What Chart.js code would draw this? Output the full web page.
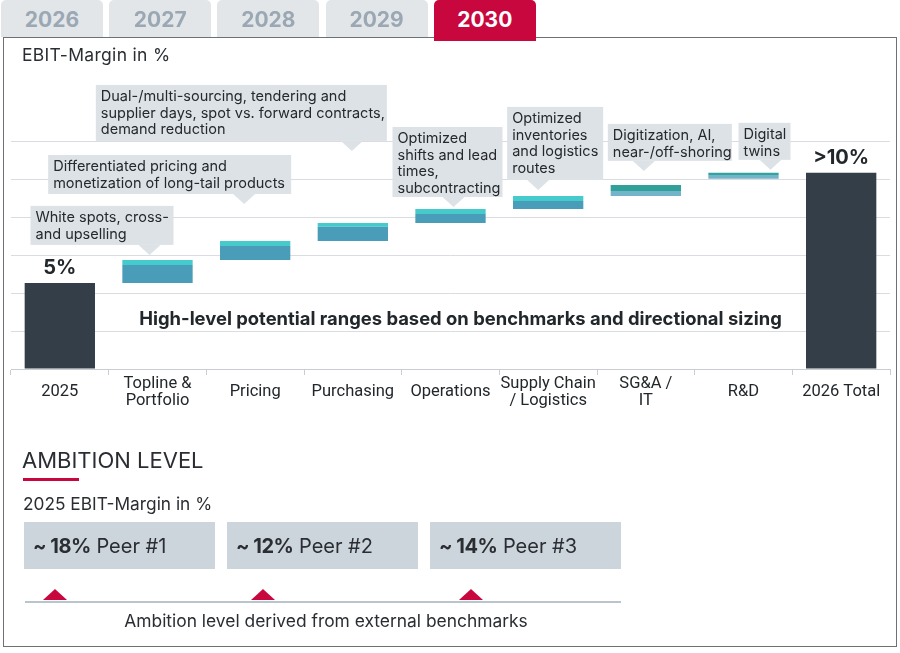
<!DOCTYPE html>
<html>
<head>
<meta charset="utf-8">
<script src="https://cdn.jsdelivr.net/npm/chart.js@4.4.1/dist/chart.umd.min.js"></script>
<style>
  body { margin: 0; width: 900px; height: 653px; position: relative; overflow: hidden; background: #fff;
         font-family: Inter, Roboto, sans-serif; color: #2a2e33; }
  #wrap { position: absolute; left: 0; top: 0; width: 900px; height: 653px; }
  .tab { position: absolute; top: 0; height: 37px; width: 102px; background: #e2e6e9; border-radius: 5px 5px 0 0;
         color: #9ba8b4; font-weight: 700; font-size: 21px; text-align: center; line-height: 39px; z-index: 1; }
  .tab.active { background: #c8073e; color: #fff; height: 41px; z-index: 3; }
  #frame { position: absolute; left: 3px; top: 37px; width: 894px; height: 610px; border: 1.5px solid #6c7176;
           box-sizing: border-box; pointer-events: none; z-index: 2; }
  .txt { position: absolute; white-space: nowrap; z-index: 4; }
  #ylab { left: 22px; top: 44px; font-size: 17.5px; letter-spacing: 0.3px; }
  #amb { left: 22px; top: 447px; font-size: 22px; }
  #ambline { position: absolute; left: 23px; top: 478px; width: 56px; height: 3px; background: #c8073e; }
  #amb2 { left: 23px; top: 493px; font-size: 17.3px; }
  .peer { position: absolute; top: 522px; width: 191px; height: 47px; background: #cdd5dc; font-size: 20px;
          line-height: 48px; padding-left: 9px; box-sizing: border-box; white-space: nowrap; }
  .peer b { font-weight: 700; letter-spacing: -0.5px; }
  .tri { position: absolute; top: 589px; width: 0; height: 0; border-left: 12px solid transparent;
         border-right: 12px solid transparent; border-bottom: 11px solid #c8073e; }
  #base { position: absolute; left: 25px; top: 601px; width: 596px; height: 2px; background: #b9c4cc; }
  #foot { left: 25px; width: 602px; top: 610px; font-size: 17.4px; text-align: center; }
</style>
</head>
<body>
<div id="wrap"><canvas id="chart"></canvas></div>
<div id="tabs"></div>
<div id="frame"></div>
<div class="txt" id="ylab">EBIT-Margin in %</div>
<div class="txt" id="amb">AMBITION LEVEL</div>
<div id="ambline"></div>
<div class="txt" id="amb2">2025 EBIT-Margin in %</div>
<div id="peers"></div>
<div id="base"></div>
<div class="txt" id="foot">Ambition level derived from external benchmarks</div>

<script>
// --- data ---
const tabYears = ['2026', '2027', '2028', '2029', '2030'];
const activeTab = '2030';

const categories = ['2025', ['Topline &', 'Portfolio'], 'Pricing', 'Purchasing', 'Operations',
  ['Supply Chain', '/ Logistics'], ['SG&A /', 'IT'], 'R&D', '2026 Total'];

// EBIT margin in %
const totalValues = [5.0, null, null, null, null, null, null, null, 11.4];
const totalLabels = ['5%', null, null, null, null, null, null, null, '>10%'];
// potential ranges per lever: start -> low estimate -> high estimate
const rangeStart = [null, 5.0, 6.34, 7.44, 8.49, 9.30, 10.06, 11.05, null];
const rangeLow   = [null, 6.05, 7.15, 8.26, 9.01, 9.77, 10.35, 11.28, null];
const rangeHigh  = [null, 6.34, 7.44, 8.49, 9.30, 10.06, 10.70, 11.40, null];

const leverNotes = [
  null,
  ['White spots, cross-', 'and upselling'],
  ['Differentiated pricing and', 'monetization of long-tail products'],
  ['Dual-/multi-sourcing, tendering and', 'supplier days, spot vs. forward contracts,', 'demand reduction'],
  ['Optimized', 'shifts and lead', 'times,', 'subcontracting'],
  ['Optimized', 'inventories', 'and logistics', 'routes'],
  ['Digitization, AI,', 'near-/off-shoring'],
  ['Digital', 'twins'],
  null
];
const chartNote = 'High-level potential ranges based on benchmarks and directional sizing';

const peerNames = ['Peer #1', 'Peer #2', 'Peer #3'];
const peerValues = [18, 12, 14];

// --- styling / layout ---
const yMax = 13.25;
const gridCount = 6;
const lowColors  = ['#4a9db8', '#4a9db8', '#4a9db8', '#4a9db8', '#4a9db8', '#4a9db8', '#74b4c8', '#74b4c8', '#4a9db8'];
const highColors = ['#45cbcb', '#45cbcb', '#45cbcb', '#45cbcb', '#45cbcb', '#45cbcb', '#31a09a', '#33a3a0', '#45cbcb'];
// callout box placement relative to bar centre / bar top (px)
const noteLayout = [
  null,
  { dx: -127, w: 143, h: 39, rise: 15, tip: -8 },
  { dx: -207, w: 243, h: 39, rise: 47, tip: -11 },
  { dx: -257, w: 291, h: 56, rise: 82, tip: -1 },
  { dx: -58, w: 110, h: 70, rise: 12, tip: 3 },
  { dx: -41, w: 96, h: 73, rise: 16, tip: -10 },
  { dx: -38, w: 124, h: 37, rise: 24, tip: -2 },
  { dx: -5, w: 52, h: 37, rise: 13, tip: 27 },
  null
];

// tabs
const tabsEl = document.getElementById('tabs');
tabYears.forEach((y, i) => {
  const d = document.createElement('div');
  d.className = 'tab' + (y === activeTab ? ' active' : '');
  d.style.left = (1 + i * 108.2) + 'px';
  d.textContent = y;
  tabsEl.appendChild(d);
});

// peer boxes
const peersEl = document.getElementById('peers');
peerValues.forEach((v, i) => {
  const box = document.createElement('div');
  box.className = 'peer';
  box.style.left = (24 + i * 203) + 'px';
  box.innerHTML = '<b>~ ' + v + '%</b> ' + peerNames[i];
  peersEl.appendChild(box);
  const t = document.createElement('div');
  t.className = 'tri';
  t.style.left = (43 + i * 208) + 'px';
  peersEl.appendChild(t);
});

const labelsPlugin = {
  id: 'labels',
  afterDatasetsDraw(chart) {
    const { ctx, chartArea } = chart;
    const x = chart.scales.x, y = chart.scales.y;
    ctx.save();

    // value labels over the total bars
    ctx.fillStyle = '#22272b';
    ctx.font = 'bold 20px Inter, sans-serif';
    ctx.textAlign = 'center';
    ctx.textBaseline = 'middle';
    totalLabels.forEach((t, i) => {
      if (!t) return;
      ctx.fillText(t, x.getPixelForValue(i), y.getPixelForValue(totalValues[i]) - 15);
    });

    // callouts
    leverNotes.forEach((lines, i) => {
      if (!lines) return;
      const L = noteLayout[i];
      const cx = x.getPixelForValue(i);
      const top = y.getPixelForValue(rangeHigh[i]);
      const bottom = top - L.rise;
      const bx = cx + L.dx, by = bottom - L.h;
      ctx.fillStyle = '#dde2e7';
      ctx.fillRect(bx, by, L.w, L.h);
      ctx.beginPath();
      ctx.moveTo(cx + L.tip - 11, bottom);
      ctx.lineTo(cx + L.tip + 11, bottom);
      ctx.lineTo(cx + L.tip, bottom + 10);
      ctx.closePath();
      ctx.fill();
      ctx.fillStyle = '#25292d';
      ctx.font = '14.5px Inter, sans-serif';
      ctx.textAlign = 'left';
      ctx.textBaseline = 'middle';
      lines.forEach((ln, k) => ctx.fillText(ln, bx + 5, by + 12 + k * 16.5));
    });

    // note across the chart
    ctx.fillStyle = '#22272b';
    ctx.font = 'bold 18.4px Inter, sans-serif';
    ctx.textAlign = 'center';
    ctx.fillText(chartNote, (chartArea.left + chartArea.right) / 2 + 10, chartArea.bottom - 50);
    ctx.restore();
  }
};

const barCommon = { grouped: false, barPercentage: 0.72, categoryPercentage: 1, borderWidth: 0 };

new Chart(document.getElementById('chart'), {
  type: 'bar',
  data: {
    labels: categories,
    datasets: [
      { ...barCommon, label: 'EBIT margin', data: totalValues, backgroundColor: '#333e48' },
      { ...barCommon, label: 'Low estimate', data: rangeStart.map((s, i) => s == null ? null : [s, rangeLow[i]]),
        backgroundColor: lowColors },
      { ...barCommon, label: 'High estimate', data: rangeLow.map((s, i) => s == null ? null : [s, rangeHigh[i]]),
        backgroundColor: highColors }
    ]
  },
  options: {
    responsive: true,
    maintainAspectRatio: false,
    animation: false,
    layout: { padding: { left: 11, right: 10, top: 141, bottom: 227 } },
    plugins: { legend: { display: false }, tooltip: { enabled: false } },
    scales: {
      x: {
        grid: { drawOnChartArea: false, drawTicks: true, tickLength: 6, color: '#c9cdd1' },
        border: { color: '#c9cdd1', width: 1 },
        ticks: {
          color: '#22272b', padding: 9, maxRotation: 0, autoSkip: false, crossAlign: 'center',
          font: { family: 'Roboto, sans-serif', size: 16.5, lineHeight: 1 }
        }
      },
      y: {
        min: 0, max: yMax,
        afterBuildTicks(axis) {
          axis.ticks = Array.from({ length: gridCount + 1 }, (_, k) => ({ value: k * yMax / gridCount }));
        },
        grid: { drawTicks: false, color: '#d9dde1' },
        border: { display: false },
        ticks: { display: false }
      }
    }
  },
  plugins: [labelsPlugin]
});
</script>
</body>
</html>
